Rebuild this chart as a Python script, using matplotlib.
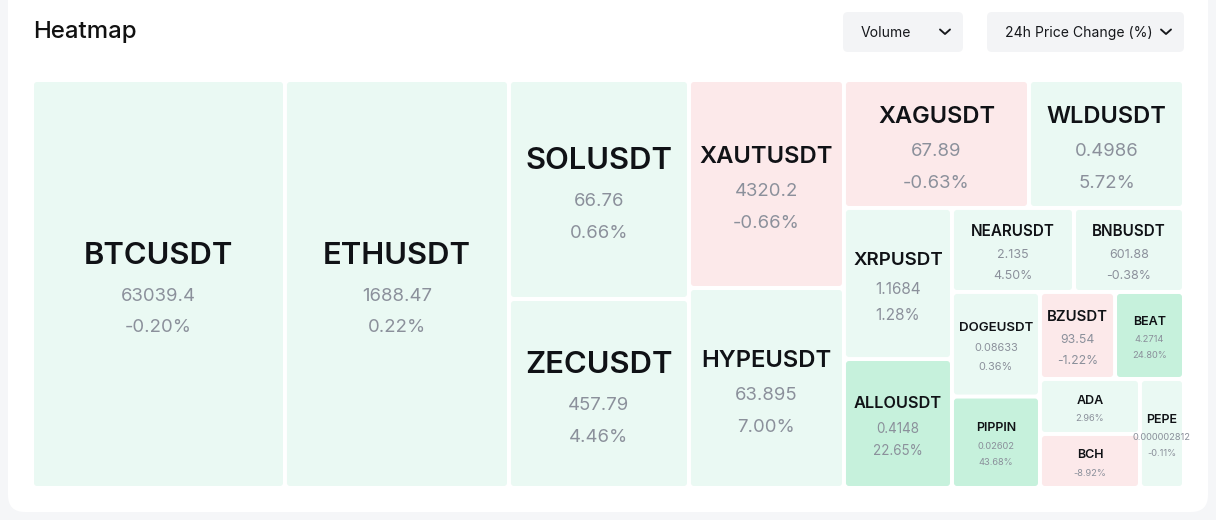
import matplotlib
matplotlib.use("Agg")
import matplotlib.pyplot as plt
from matplotlib.patches import FancyBboxPatch

# symbols sorted by 24h volume (relative units)
symbols = ["BTCUSDT", "ETHUSDT", "SOLUSDT", "ZECUSDT", "XAUTUSDT", "HYPEUSDT",
           "XAGUSDT", "WLDUSDT", "XRPUSDT", "ALLOUSDT", "NEARUSDT", "BNBUSDT",
           "DOGEUSDT", "PIPPIN", "BZUSDT", "BEAT", "ADA", "BCH", "PEPE"]
volume = [1032.2, 913.9, 394.2, 340.2, 322.4, 310.0,
          236.8, 198.4, 163.1, 139.3, 102.5, 92.4,
          92.0, 80.5, 65.3, 60.0, 55.0, 54.0, 48.0]
prices = ["63039.4", "1688.47", "66.76", "457.79", "4320.2", "63.895",
          "67.89", "0.4986", "1.1684", "0.4148", "2.135", "601.88",
          "0.08633", "0.02602", "93.54", "4.2714", None, None, "0.000002812"]
change = [-0.20, 0.22, 0.66, 4.46, -0.66, 7.00,
          -0.63, 5.72, 1.28, 22.65, 4.50, -0.38,
          0.36, 43.68, -1.22, 24.80, 2.96, -8.92, -0.11]

PX = 0.72  # points per pixel at dpi 100
plt.rcParams['font.family'] = ['Inter', 'DejaVu Sans']


def worst(row, side):
    s = sum(row)
    return max(max(side * side * r / (s * s), s * s / (side * side * r)) for r in row)


def squarify(values, x, y, w, h):
    total = sum(values)
    areas = [v * w * h / total for v in values]
    rects = []
    i = 0
    while i < len(areas):
        side = min(w, h)
        row = [areas[i]]
        j = i + 1
        while j < len(areas) and worst(row + [areas[j]], side) <= worst(row, side):
            row.append(areas[j])
            j += 1
        s = sum(row)
        if w >= h:
            cw = s / h
            yy = y
            for a in row:
                rects.append((x, yy, cw, a / cw))
                yy += a / cw
            x += cw
            w -= cw
        else:
            rh = s / w
            xx = x
            for a in row:
                rects.append((xx, y, a / rh, rh))
                xx += a / rh
            y += rh
            h -= rh
        i = j
    return rects


def cell_color(pct):
    if pct <= -0.5:
        return '#fce9ea'
    if pct >= 20:
        return '#c6f1dc'
    return '#eaf9f3'


fig = plt.figure(figsize=(12.16, 5.2), dpi=100)
fig.patch.set_facecolor('#f5f6f8')
ax = fig.add_axes([0, 0, 1, 1])
ax.set_xlim(0, 1216)
ax.set_ylim(520, 0)
ax.axis('off')

# card
ax.add_patch(FancyBboxPatch((8, -40), 1200, 552, boxstyle="round,pad=0,rounding_size=17",
                            fc='white', ec='none'))
ax.text(33, 38, "Heatmap", fontsize=24 * PX, color='#111111', weight='medium', va='baseline')

# dropdowns
for (bx, bw, label, tx, cx) in [(843, 120, "Volume", 861, 945),
                                (987, 197, "24h Price Change (%)", 1005, 1166)]:
    ax.add_patch(FancyBboxPatch((bx, 12), bw, 40, boxstyle="round,pad=0,rounding_size=5",
                                fc='#f3f4f6', ec='none'))
    ax.text(tx, 33, label, fontsize=14 * PX, color='#16181c', va='center')
    ax.plot([cx - 5, cx, cx + 5], [29.5, 34, 29.5], color='#16181c', lw=1.9 * PX,
            solid_capstyle='round', solid_joinstyle='round')

# treemap
gap = 2
rects = squarify(volume, 32, 80, 1152, 408)
for (x, y, w, h), sym, price, pct in zip(rects, symbols, prices, change):
    x, y, w, h = x + gap, y + gap, w - 2 * gap, h - 2 * gap
    ax.add_patch(FancyBboxPatch((x, y), w, h, boxstyle="round,pad=0,rounding_size=3",
                                fc=cell_color(pct), ec='none'))
    if sym.endswith("USDT"):
        name_px = min(31, 0.87 * w / (0.69 * len(sym)), 0.19 * h)
        val_px = min(18.5, 0.82 * name_px)
    else:
        name_px = 12.5
        val_px = 9.3
    lines = [(sym, name_px, '#101216', 'semibold')]
    if price is not None:
        lines.append((price, val_px, '#8b909b', 'normal'))
    lines.append((f"{pct:.2f}%", val_px, '#8b909b', 'normal'))
    offs = [0]
    for k in range(1, len(lines)):
        step = 0.7 * name_px + 1.0 * val_px if k == 1 else 1.7 * val_px
        offs.append(offs[-1] + step)
    y0 = y + h / 2 - offs[-1] / 2 + 0.25 * name_px
    cx = x + w / 2
    for (txt, px, col, wt), o in zip(lines, offs):
        ax.text(cx, y0 + o, txt, fontsize=px * PX, color=col, weight=wt,
                ha='center', va='center')

fig.savefig("out.png", dpi=100, facecolor=fig.get_facecolor())
